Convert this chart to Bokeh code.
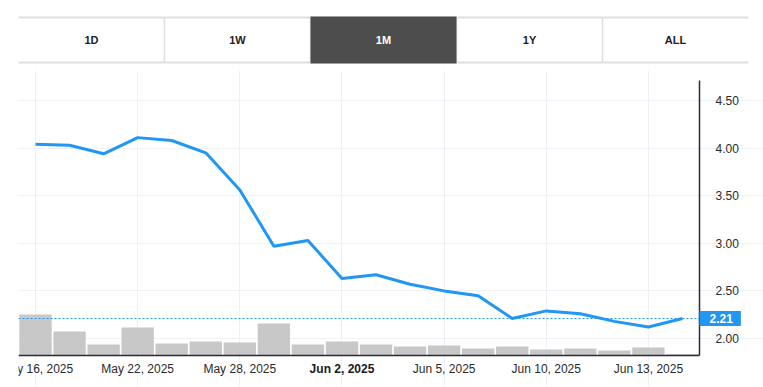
from bokeh.plotting import figure
from bokeh.models import Range1d, FixedTicker, Label, NumeralTickFormatter, BoxAnnotation
from bokeh.layouts import column
from bokeh.embed import file_html
from bokeh.resources import INLINE
from bokeh.core.properties import value

# ---------------- data ----------------
buttons = ["1D", "1W", "1M", "1Y", "ALL"]
active_button = "1M"

prices = [4.04, 4.03, 3.94, 4.11, 4.08, 3.95, 3.56, 2.97, 3.03, 2.63,
          2.67, 2.57, 2.50, 2.45, 2.21, 2.29, 2.26, 2.18, 2.12, 2.21]
volumes = [4.1, 2.4, 1.1, 2.8, 1.2, 1.4, 1.3, 3.2, 1.1, 1.4,
           1.1, 0.9, 1.0, 0.7, 0.9, 0.6, 0.7, 0.5, 0.8, 0.13]
tick_index = [0, 3, 6, 9, 12, 15, 18]
tick_labels = ["May 16, 2025", "May 22, 2025", "May 28, 2025", "Jun 2, 2025",
               "Jun 5, 2025", "Jun 10, 2025", "Jun 13, 2025"]
bold_tick = "Jun 2, 2025"
y_ticks = [2.0, 2.5, 3.0, 3.5, 4.0, 4.5]
last_price = prices[-1]

# ---------------- styles / layout (pixels) ----------------
W = 763
BLUE = "#2196f3"
TXT = "#2a2a2a"
FONT = "Liberation Sans"

# ---------------- buttons row ----------------
bh = 70
bf = figure(width=W, height=bh, x_range=Range1d(0, W), y_range=Range1d(0, bh),
            toolbar_location=None, output_backend="svg", min_border=0)
bf.axis.visible = False
bf.grid.visible = False
bf.outline_line_color = None
left, right = 18, 748
n = len(buttons)
bw = (right - left) / n
top_y, bot_y = bh - 17, bh - 62
bf.segment(x0=[left, left], y0=[top_y, bot_y], x1=[right, right], y1=[top_y, bot_y],
           line_color="#e0e0e0", line_width=2)
divx = [left + bw * i for i in range(1, n)]
bf.segment(x0=divx, y0=[bot_y] * len(divx), x1=divx, y1=[top_y] * len(divx),
           line_color="#e0e0e0", line_width=1.5)
ai = buttons.index(active_button)
bf.quad(left=[left + bw * ai], right=[left + bw * (ai + 1)], bottom=[bot_y - 1], top=[top_y + 1],
        fill_color="#4d4d4d", line_color=None)
cx = [left + bw * (i + 0.5) for i in range(n)]
cols = ["white" if b == active_button else "#222222" for b in buttons]
bf.text(x=cx, y=[(top_y + bot_y) / 2] * n, text=buttons, text_color=cols,
        text_font=value(FONT), text_font_size="11px", text_font_style="bold",
        text_align="center", text_baseline="middle")

# ---------------- chart (frame = whole canvas) ----------------
ch = 316
page_top = bh                      # chart canvas top on the page
fx0, fx1 = 18, 699                 # plot area left/right (page px)
fy0, fy1 = 80, 355                 # plot area top/bottom (page px)
npts = len(prices)
xpx = (fx1 - fx0) / npts           # px per index
def xd(px):
    return -0.5 + (px - fx0) / xpx
ypx = (338 - 100) / (y_ticks[-1] - y_ticks[0])   # px per price unit
def yd(py):
    return y_ticks[0] + (338 - py) / ypx
vpx = 10.0                          # px per volume unit
def vd(py):
    return (fy1 - py) / vpx

x_lo, x_hi = xd(0), xd(W)
y_lo, y_hi = yd(page_top + ch), yd(page_top)
plot_l, plot_r = xd(fx0), xd(fx1)
plot_b, plot_t = yd(fy1), yd(fy0)

p = figure(width=W, height=ch, x_range=Range1d(x_lo, x_hi), y_range=Range1d(y_lo, y_hi),
           y_axis_location="right", toolbar_location=None, output_backend="svg",
           min_border=0)
p.outline_line_color = None
p.extra_y_ranges = {"vol": Range1d(vd(page_top + ch), vd(page_top))}

xs = list(range(npts))
p.vbar(x=xs, top=volumes, bottom=0, width=0.95, y_range_name="vol",
       fill_color="#c8c8c8", line_color=None)
p.line(x=xs, y=prices, line_color=BLUE, line_width=3)
p.segment(x0=[plot_l], y0=[last_price], x1=[plot_r], y1=[last_price],
          line_color=BLUE, line_dash="2 2", line_width=1)

for ax in (p.xaxis[0], p.yaxis[0]):
    ax.axis_line_color = "#2b2b3b"
    ax.axis_line_width = 1.5
    ax.major_tick_line_color = None
    ax.minor_tick_line_color = None
    ax.major_label_text_font = FONT
    ax.major_label_text_font_size = "12px"
    ax.major_label_text_color = TXT

xa = p.xaxis[0]
xa.fixed_location = plot_b
xa.bounds = (plot_l, plot_r)
xa.ticker = FixedTicker(ticks=tick_index)
xa.major_label_overrides = {i: ("" if t == bold_tick else t)
                            for i, t in zip(tick_index, tick_labels)}
xa.major_label_standoff = 0

ya = p.yaxis[0]
ya.fixed_location = plot_r
ya.bounds = (plot_b, plot_t)
ya.ticker = FixedTicker(ticks=y_ticks)
ya.formatter = NumeralTickFormatter(format="0.00")
ya.major_label_standoff = 10

p.xgrid.grid_line_color = "#eef1f8"
p.ygrid.grid_line_color = "#eef1f8"
p.xgrid.bounds = (plot_b, plot_t)
p.ygrid.bounds = (plot_l, plot_r)

# bold month-start date label
bi = tick_labels.index(bold_tick)
p.add_layout(Label(x=tick_index[bi], y=yd(fy1 + 6), text=bold_tick,
                   text_font=FONT, text_font_size="12px", text_font_style="bold",
                   text_color="#1a1a1a", text_align="center", text_baseline="top"))

# last price tag on the price axis
p.add_layout(Label(x=plot_r, y=last_price, text=f"{last_price:.2f}",
                   text_font=FONT, text_font_size="12px", text_font_style="bold",
                   text_color="white", text_align="left", text_baseline="middle",
                   background_fill_color=BLUE,
                   padding=dict(left=10, right=8, top=3, bottom=3)))

# left edge of the plot area clips the first date label
p.add_layout(BoxAnnotation(left=x_lo, right=plot_l, bottom=y_lo, top=y_hi,
                           fill_color="white", fill_alpha=1.0, line_color=None))

layout = column(bf, p, spacing=0)
open("out.html", "w").write(file_html(layout, INLINE))
